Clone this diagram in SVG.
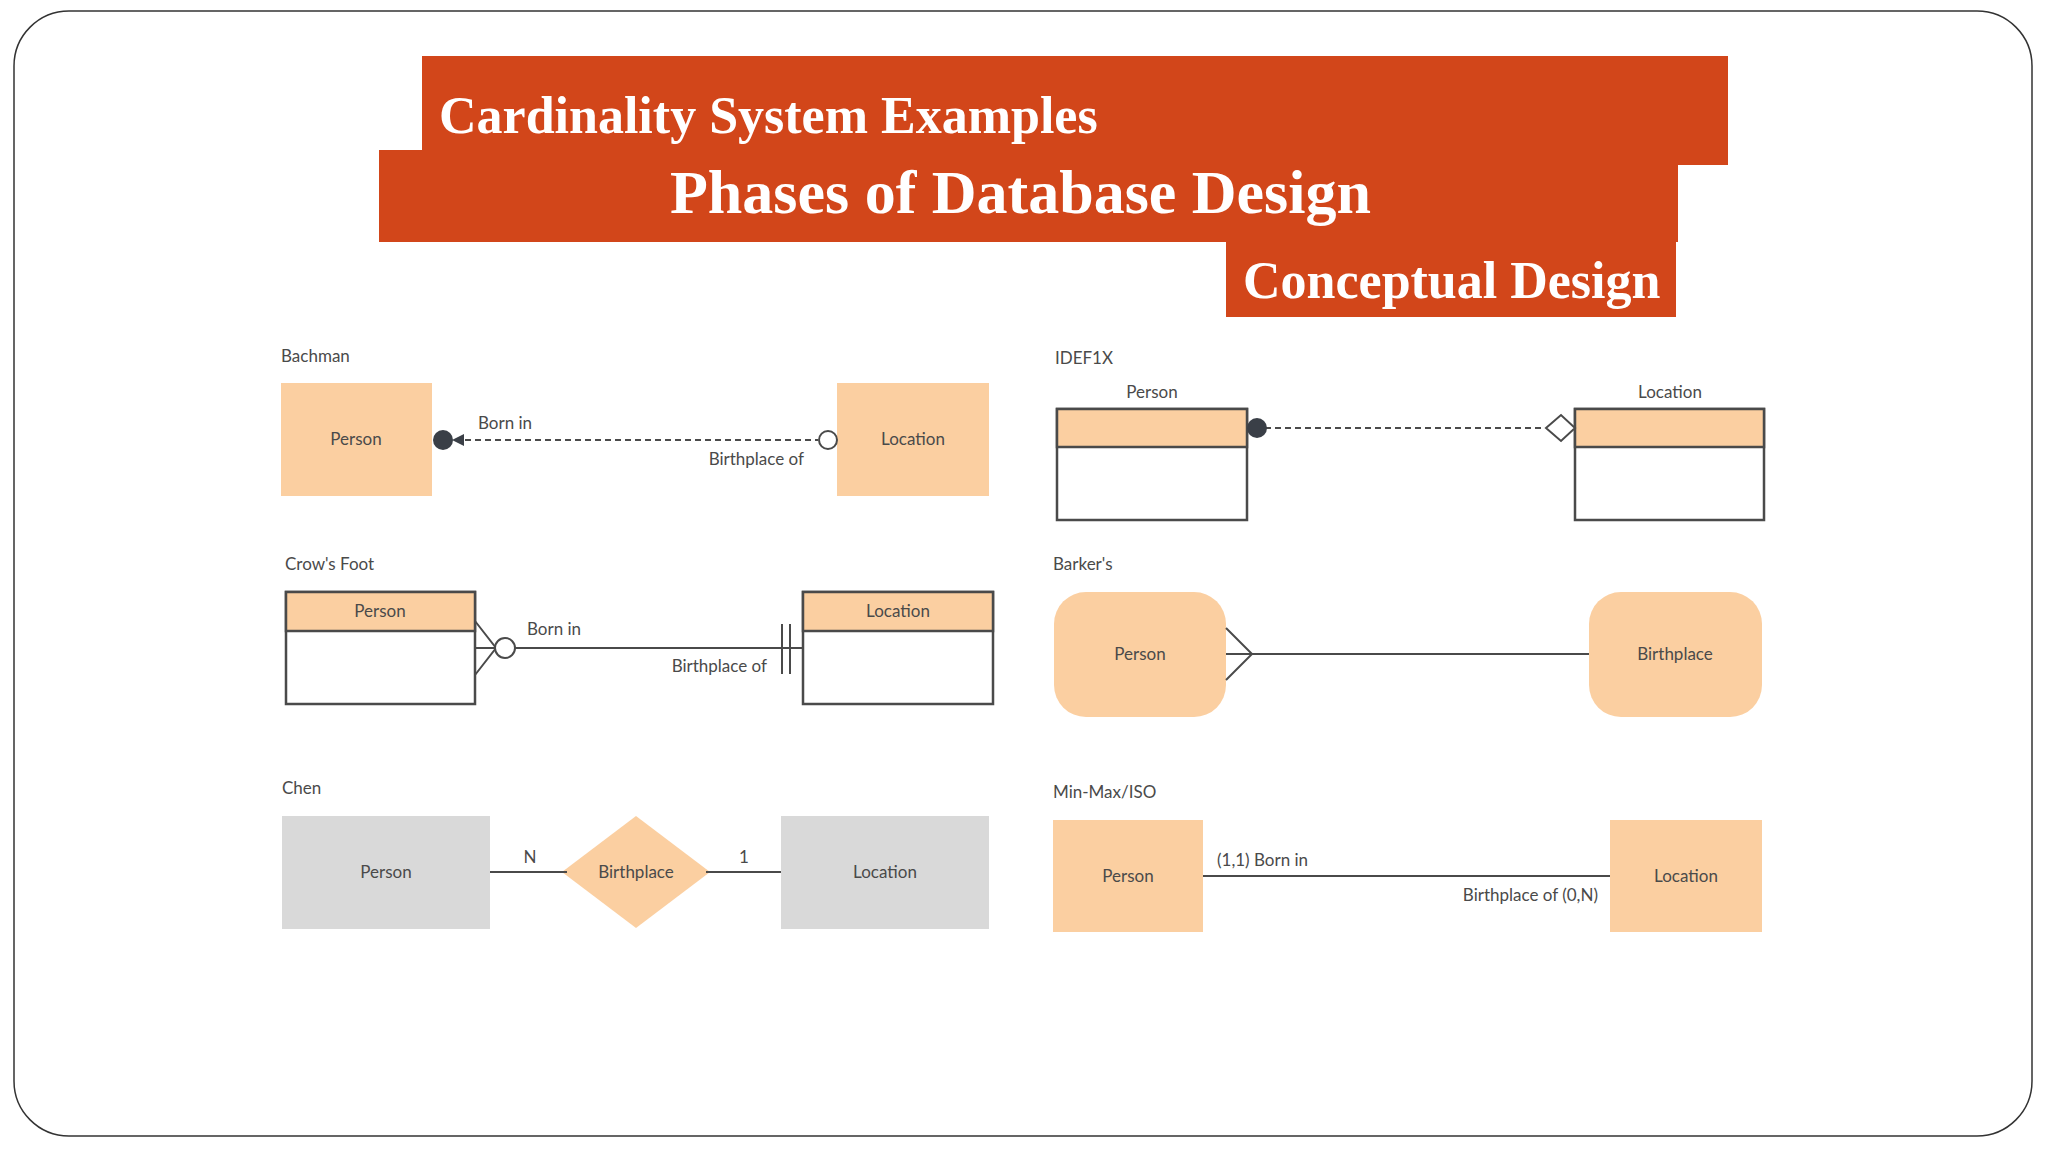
<svg xmlns="http://www.w3.org/2000/svg" width="2048" height="1152" viewBox="0 0 2048 1152">
<style>
.t{font-family:Lato,"Noto Sans",sans-serif;font-size:17px;fill:#4a4a4a}
.c{text-anchor:middle}
.h{font-family:"Liberation Serif",serif;font-weight:bold;fill:#fff}
.e{fill:#fbcfa1}
.g{fill:#d9d9d9}
.ln{stroke:#4a4a4a;stroke-width:2;fill:none}
.bx{stroke:#4a4a4a;stroke-width:2.5;fill:#fff}
.hd{stroke:#4a4a4a;stroke-width:2.5;fill:#fbcfa1}
.ban{fill:#d2461a}
</style>
<rect x="0" y="0" width="2048" height="1152" fill="#fff"/>
<rect x="14" y="11" width="2018" height="1125" rx="55" fill="#fff" stroke="#333" stroke-width="1.5"/>
<g id="title">
<rect class="ban" x="422" y="56" width="1306" height="109"/>
<rect class="ban" x="379" y="150" width="1299" height="92"/>
<rect class="ban" x="1226" y="240" width="450" height="77"/>
<text class="h" x="439" y="133" font-size="52">Cardinality System Examples</text>
<text class="h" x="670" y="213" font-size="62">Phases of Database Design</text>
<text class="h" x="1243" y="298" font-size="52">Conceptual Design</text>
</g>
<g id="labels">
<text class="t" x="281" y="362">Bachman</text>
<text class="t" x="285" y="570">Crow's Foot</text>
<text class="t" x="282" y="794">Chen</text>
<text class="t" x="1055" y="364">IDEF1X</text>
<text class="t" x="1053" y="570">Barker's</text>
<text class="t" x="1053" y="798">Min-Max/ISO</text>
</g>
<g id="bachman-person"><rect class="e" x="281" y="383" width="151" height="113"/><text class="t c" x="356" y="445">Person</text></g>
<g id="bachman-location"><rect class="e" x="837" y="383" width="152" height="113"/><text class="t c" x="913" y="445">Location</text></g>
<g id="crow-person"><rect class="bx" x="286" y="592" width="189" height="112"/><rect class="hd" x="286" y="592" width="189" height="39"/><text class="t c" x="380" y="617">Person</text></g>
<g id="crow-location"><rect class="bx" x="803" y="592" width="190" height="112"/><rect class="hd" x="803" y="592" width="190" height="39"/><text class="t c" x="898" y="617">Location</text></g>
<g id="chen-person"><rect class="g" x="282" y="816" width="208" height="113"/><text class="t c" x="386" y="878">Person</text></g>
<g id="chen-birthplace"><polygon class="e" points="636,816 710,872 636,928 562,872"/><text class="t c" x="636" y="878">Birthplace</text></g>
<g id="chen-location"><rect class="g" x="781" y="816" width="208" height="113"/><text class="t c" x="885" y="878">Location</text></g>
<g id="idef-person"><text class="t c" x="1152" y="398">Person</text><rect class="bx" x="1057" y="409" width="190" height="111"/><rect class="hd" x="1057" y="409" width="190" height="38"/></g>
<g id="idef-location"><text class="t c" x="1670" y="398">Location</text><rect class="bx" x="1575" y="409" width="189" height="111"/><rect class="hd" x="1575" y="409" width="189" height="38"/></g>
<g id="barker-person"><rect class="e" x="1054" y="592" width="172" height="125" rx="32"/><text class="t c" x="1140" y="660">Person</text></g>
<g id="barker-birthplace"><rect class="e" x="1589" y="592" width="173" height="125" rx="32"/><text class="t c" x="1675" y="660">Birthplace</text></g>
<g id="minmax-person"><rect class="e" x="1053" y="820" width="150" height="112"/><text class="t c" x="1128" y="882">Person</text></g>
<g id="minmax-location"><rect class="e" x="1610" y="820" width="152" height="112"/><text class="t c" x="1686" y="882">Location</text></g>
<g id="connectors">
<line class="ln" x1="455" y1="440" x2="818" y2="440" stroke-dasharray="6,4"/>
<circle cx="443" cy="440" r="10" fill="#3a3f47"/>
<polygon points="452,440 464,434 464,446" fill="#3a3f47"/>
<circle cx="828" cy="440" r="9" fill="#fff" stroke="#4a4a4a" stroke-width="2"/>
<text class="t" x="478" y="429">Born in</text>
<text class="t" x="804" y="465" text-anchor="end">Birthplace of</text>
<line class="ln" x1="475" y1="648" x2="803" y2="648"/>
<polyline class="ln" points="475,621 496,648 475,675"/>
<circle cx="505" cy="648" r="10" fill="#fff" stroke="#4a4a4a" stroke-width="2"/>
<line class="ln" x1="782" y1="624" x2="782" y2="674"/>
<line class="ln" x1="790" y1="624" x2="790" y2="674"/>
<text class="t" x="527" y="635">Born in</text>
<text class="t" x="767" y="672" text-anchor="end">Birthplace of</text>
<line class="ln" x1="490" y1="872" x2="567" y2="872"/>
<line class="ln" x1="706" y1="872" x2="781" y2="872"/>
<text class="t" x="530" y="863" text-anchor="middle">N</text>
<text class="t" x="744" y="863" text-anchor="middle">1</text>
<line class="ln" x1="1265" y1="428" x2="1545" y2="428" stroke-dasharray="6,4"/>
<circle cx="1257" cy="428" r="10" fill="#3a3f47"/>
<polygon points="1546,428 1561,415 1575,428 1561,441" fill="#fff" stroke="#4a4a4a" stroke-width="2"/>
<line class="ln" x1="1226" y1="654" x2="1589" y2="654"/>
<polyline class="ln" points="1226,628 1252,654 1226,680"/>
<line class="ln" x1="1203" y1="876" x2="1610" y2="876"/>
<text class="t" x="1217" y="866">(1,1) Born in</text>
<text class="t" x="1598" y="901" text-anchor="end">Birthplace of (0,N)</text>
</g>
</svg>
